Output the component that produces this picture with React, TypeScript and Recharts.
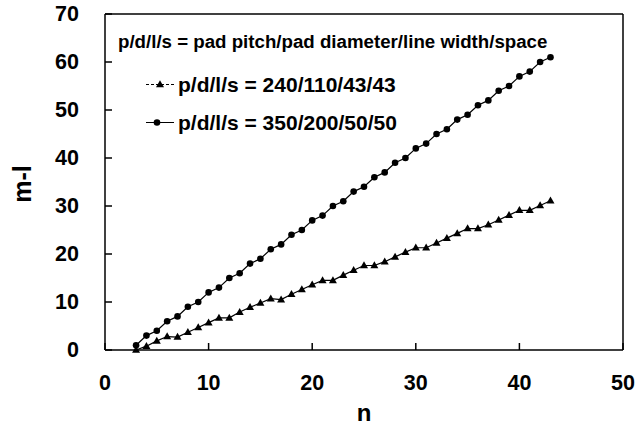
import { LineChart, Line, XAxis, YAxis, ReferenceLine } from 'recharts';

// n = 3..43
const nValues = [
  3, 4, 5, 6, 7, 8, 9, 10, 11, 12, 13, 14, 15, 16, 17, 18, 19, 20, 21, 22, 23,
  24, 25, 26, 27, 28, 29, 30, 31, 32, 33, 34, 35, 36, 37, 38, 39, 40, 41, 42, 43,
];

// p/d/l/s = 240/110/43/43 (triangles)
const smallPitch = [
  0, 0.8, 1.9, 2.8, 2.7, 3.7, 4.7, 5.7, 6.7, 6.7, 7.9, 8.9, 9.8, 10.7, 10.5,
  11.6, 12.6, 13.6, 14.5, 14.5, 15.6, 16.6, 17.6, 17.6, 18.4, 19.4, 20.4, 21.3,
  21.3, 22.3, 23.3, 24.3, 25.3, 25.3, 26.1, 27.1, 28.1, 29.1, 29.1, 30.1, 31.1,
];

// p/d/l/s = 350/200/50/50 (circles)
const largePitch = [
  1, 3, 4, 6, 7, 9, 10, 12, 13, 15, 16, 18, 19, 21, 22, 24, 25, 27, 28, 30, 31,
  33, 34, 36, 37, 39, 40, 42, 43, 45, 46, 48, 49, 51, 52, 54, 55, 57, 58, 60, 61,
];

const xTicks = [0, 10, 20, 30, 40, 50];
const yTicks = [0, 10, 20, 30, 40, 50, 60, 70];

const headerText = 'p/d/l/s = pad pitch/pad diameter/line width/space';
const seriesNames = ['p/d/l/s = 240/110/43/43', 'p/d/l/s = 350/200/50/50'];

const data = nValues.map((n, i) => ({ n, small: smallPitch[i], large: largePitch[i] }));

const FONT = '"Liberation Sans", Arial, sans-serif';

const XTick = ({ x, y, payload }: any) => (
  <g>
    <line x1={x} y1={y} x2={x} y2={y - 7} stroke="#000" strokeWidth={1.5} />
    <text x={x} y={y + 33} textAnchor="middle" dominantBaseline="central"
      fontFamily={FONT} fontWeight="bold" fontSize={21.5} fill="#000">
      {payload.value}
    </text>
  </g>
);

const YTick = ({ x, y, payload }: any) => (
  <g>
    <line x1={x} y1={y} x2={x + 7} y2={y} stroke="#000" strokeWidth={1.5} />
    <text x={x - 26} y={y} textAnchor="end" dominantBaseline="central"
      fontFamily={FONT} fontWeight="bold" fontSize={21.5} fill="#000">
      {payload.value}
    </text>
  </g>
);

const Triangle = ({ cx, cy, index }: any) => (
  <polygon key={`tri-${index}`} points={`${cx},${cy - 4.2} ${cx - 4},${cy + 2.8} ${cx + 4},${cy + 2.8}`} fill="#000" />
);

const Dot = ({ cx, cy, index }: any) => (
  <circle key={`dot-${index}`} cx={cx} cy={cy} r={3.3} fill="#000" />
);

export default function App() {
  return (
    <div style={{ position: 'relative', width: 642, height: 429, background: '#fff', fontFamily: FONT }}>
      <style>{'body{margin:0}'}</style>
      <LineChart width={642} height={429} data={data} margin={{ top: 14, right: 19, bottom: 0, left: 0 }}>
        <XAxis
          type="number"
          dataKey="n"
          domain={[0, 50]}
          ticks={xTicks}
          tickSize={0}
          tickMargin={0}
          tickLine={false}
          axisLine={{ stroke: '#000', strokeWidth: 1.5 }}
          tick={<XTick />}
          height={79}
          label={{ value: 'n', position: 'insideBottom', offset: 8, fill: '#000', fontSize: 24, fontWeight: 'bold', fontFamily: FONT }}
        />
        <YAxis
          type="number"
          domain={[0, 70]}
          ticks={yTicks}
          tickSize={0}
          tickMargin={0}
          tickLine={false}
          axisLine={{ stroke: '#000', strokeWidth: 1.5 }}
          tick={<YTick />}
          width={105}
        />
        <ReferenceLine y={70} stroke="#000" strokeWidth={1.5} />
        <ReferenceLine x={50} stroke="#000" strokeWidth={1.5} />
        <Line
          dataKey="small"
          stroke="#000"
          strokeWidth={1.2}
          dot={Triangle}
          activeDot={false}
          isAnimationActive={false}
        />
        <Line
          dataKey="large"
          stroke="#000"
          strokeWidth={1.2}
          dot={Dot}
          activeDot={false}
          isAnimationActive={false}
        />
      </LineChart>

      {/* y axis title */}
      <div style={{
        position: 'absolute', left: 22, top: 184, transform: 'translate(-50%, -50%) rotate(-90deg)',
        fontSize: 25, fontWeight: 'bold', whiteSpace: 'nowrap', lineHeight: 1,
      }}>m-l</div>

      {/* legend */}
      <div style={{ position: 'absolute', left: 118, top: 42, transform: 'translateY(-50%)', fontSize: 18.7, fontWeight: 'bold', whiteSpace: 'nowrap', lineHeight: 1 }}>
        {headerText}
      </div>
      {seriesNames.map((name, i) => (
        <div key={name} style={{ position: 'absolute', left: 145, top: i === 0 ? 84 : 122, transform: 'translateY(-50%)', display: 'flex', alignItems: 'center', whiteSpace: 'nowrap' }}>
          <svg width={30} height={12} style={{ display: 'block' }}>
            <line x1={1} y1={6} x2={29} y2={6} stroke="#000" strokeWidth={1.2} strokeDasharray={i === 0 ? '3 2' : undefined} />
            {i === 0
              ? <polygon points="15,1.8 11,8.8 19,8.8" fill="#000" />
              : <circle cx={12} cy={6} r={3.3} fill="#000" />}
          </svg>
          <span style={{ marginLeft: 3, fontSize: 21, fontWeight: 'bold', lineHeight: 1 }}>{name}</span>
        </div>
      ))}
    </div>
  );
}
